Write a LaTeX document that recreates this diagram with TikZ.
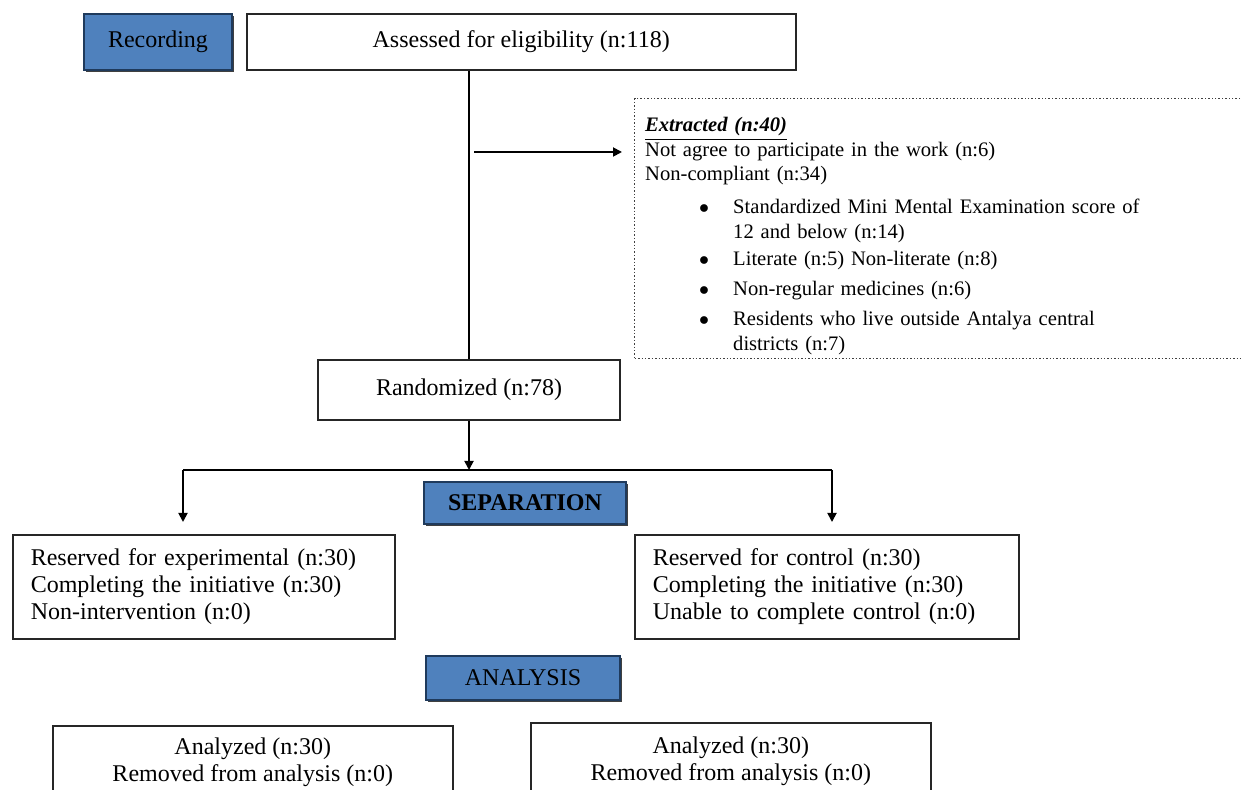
\documentclass[tikz,border=0pt]{standalone}
\usepackage{fontspec}
\setmainfont{Liberation Serif}
\usetikzlibrary{arrows.meta, positioning, shadows}

\definecolor{headblue}{HTML}{4F81BD}
\definecolor{headline}{HTML}{1F3A5C}

\newcommand{\exitem}[1]{\hspace*{27pt}\makebox[17pt][l]{$\bullet$}\parbox[t]{240pt}{\raggedright #1}}

\begin{document}
\begin{tikzpicture}[
            x=0.5pt, y=-0.5pt,
            box/.style={rectangle, draw=black!85, line width=0.8pt, fill=white, font=\fontsize{12}{13.5}\selectfont},
            head/.style={rectangle, draw=headline, line width=0.9pt, fill=headblue, font=\fontsize{12}{13.5}\selectfont,
                drop shadow={shadow xshift=1.2pt, shadow yshift=-1.2pt, fill=black!75, opacity=1}},
            listbox/.style={rectangle, draw=black!75, densely dotted, line width=0.7pt, fill=white, anchor=north west,
                align=left, inner xsep=5.25pt, inner ysep=2pt, font=\fontsize{10.3}{12.2}\selectfont},
            arr/.style={-{Triangle[length=4.5pt, width=4.5pt]}, line width=0.9pt},
            line/.style={line width=0.9pt}
        ]
            \useasboundingbox (0,0) rectangle (1242,790);
            \clip (0,0) rectangle (1242,790);

            \node[head, minimum width=74pt, minimum height=28pt] (rec) at (158,42) {Recording};
            \node[box, minimum width=274.5pt, minimum height=28pt, right=6.5pt of rec] (assess) {Assessed for eligibility (n:118)};

            \node[listbox, text width=296pt, minimum height=130pt] (extracted) at (634,98) {%
                \rule{0pt}{14.5pt}\underline{\textbf{\textit{Extracted (n:40)}}}\\
                Not agree to participate in the work (n:6)\\
                Non-compliant (n:34)\\[4.5pt]
                \exitem{Standardized Mini Mental Examination score of\\12 and below (n:14)}\\[3pt]
                \exitem{Literate (n:5) Non-literate (n:8)}\\[3pt]
                \exitem{Non-regular medicines (n:6)}\\[3pt]
                \exitem{Residents who live outside Antalya central\\districts (n:7)}};

            \node[box, minimum width=151pt, minimum height=30pt] (random) at (469,390) {Randomized (n:78)};
            \node[head, font=\fontsize{12}{13.5}\selectfont\bfseries, minimum width=101pt, minimum height=21pt] (sep) at (525,503) {SEPARATION};

            \node[box, anchor=north west, text width=173pt, inner xsep=9pt, minimum height=52pt, align=left] (exper) at (12,534)
                {Reserved for experimental (n:30)\\Completing the initiative (n:30)\\Non-intervention (n:0)};
            \node[box, anchor=north west, text width=174pt, inner xsep=9pt, minimum height=52pt, align=left] (contr) at (634,534)
                {Reserved for control (n:30)\\Completing the initiative (n:30)\\Unable to complete control (n:0)};

            \node[head, minimum width=97pt, minimum height=22pt] (analysis) at (523,678) {ANALYSIS};

            \node[box, anchor=north west, minimum width=200pt, minimum height=36.5pt, align=center] (anexp) at (52,725)
                {Analyzed (n:30)\\Removed from analysis (n:0)};
            \node[box, anchor=north west, minimum width=200pt, minimum height=38pt, align=center] (ancon) at (530,722)
                {Analyzed (n:30)\\Removed from analysis (n:0)};

            % connectors
            \coordinate (exfrom) at (474,152);
            \coordinate (splitL) at (183,470);
            \coordinate (splitR) at (832,470);
            \draw[line] (random.north |- assess.south) -- (random.north);
            \draw[arr, shorten >=6pt] (exfrom) -- (exfrom -| extracted.west);
            \draw[arr] (random.south) -- (random.south |- splitL);
            \draw[line] (splitL) -- (splitR);
            \draw[arr, shorten >=6pt] (splitL) -- (splitL |- exper.north);
            \draw[arr, shorten >=6pt] (splitR) -- (splitR |- contr.north);
        \end{tikzpicture}
\end{document}
